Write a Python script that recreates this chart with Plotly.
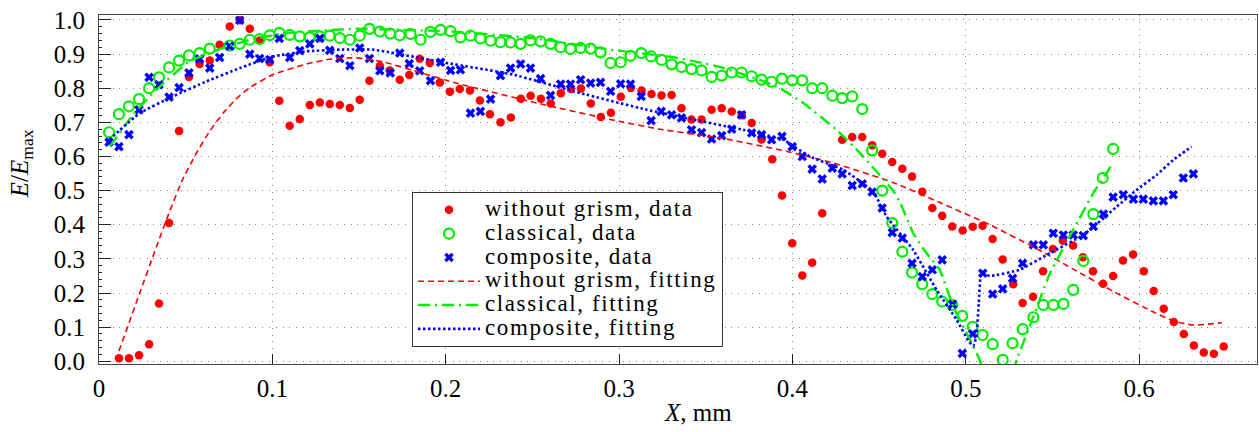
import plotly.graph_objects as go

# ---- data ----
red_x = [0.0115, 0.0173, 0.0231, 0.0289, 0.0346, 0.0404, 0.0462, 0.0519, 0.0580, 0.0639,
         0.0696, 0.0754, 0.0812, 0.0870, 0.0927, 0.0985, 0.1040, 0.1100, 0.1158, 0.1216,
         0.1274, 0.1331, 0.1389, 0.1447, 0.1504, 0.1560, 0.1620, 0.1677, 0.1735, 0.1790,
         0.1850, 0.1908, 0.1966, 0.2024, 0.2081, 0.2140, 0.2197, 0.2255, 0.2316, 0.2376,
         0.2433, 0.2490, 0.2549, 0.2606, 0.2664, 0.2722, 0.2780, 0.2837, 0.2895, 0.2953,
         0.3010, 0.3068, 0.3130, 0.3187, 0.3245, 0.3303, 0.3360, 0.3418, 0.3476, 0.3534,
         0.3592, 0.3650, 0.3707, 0.3765, 0.3822, 0.3884, 0.3940, 0.3999, 0.4057, 0.4114,
         0.4172, 0.4287, 0.4345, 0.4403, 0.4460, 0.4518, 0.4576, 0.4634, 0.4690, 0.4749,
         0.4807, 0.4864, 0.4922, 0.4982, 0.5040, 0.5097, 0.5155, 0.5213, 0.5274, 0.5328,
         0.5388, 0.5446, 0.5503, 0.5560, 0.5619, 0.5676, 0.5734, 0.5792, 0.5850, 0.5907,
         0.5965, 0.6027, 0.6084, 0.6142, 0.6200, 0.6258, 0.6316, 0.6373, 0.6431, 0.6488]
red_y = [0.009, 0.009, 0.018, 0.050, 0.169, 0.405, 0.675, 0.833, 0.871, 0.881,
         0.927, 0.981, 0.999, 0.974, 0.940, 0.876, 0.763, 0.690, 0.710, 0.751,
         0.758, 0.754, 0.751, 0.742, 0.766, 0.822, 0.865, 0.852, 0.825, 0.839,
         0.886, 0.874, 0.817, 0.790, 0.798, 0.793, 0.764, 0.724, 0.700, 0.714,
         0.769, 0.778, 0.769, 0.755, 0.785, 0.798, 0.799, 0.755, 0.716, 0.728,
         0.775, 0.801, 0.793, 0.783, 0.779, 0.780, 0.741, 0.708, 0.708, 0.737,
         0.741, 0.732, 0.721, 0.698, 0.650, 0.592, 0.486, 0.346, 0.251, 0.289,
         0.434, 0.649, 0.657, 0.657, 0.633, 0.608, 0.584, 0.564, 0.541, 0.497,
         0.449, 0.426, 0.395, 0.383, 0.394, 0.397, 0.358, 0.298, 0.226, 0.171,
         0.189, 0.264, 0.329, 0.353, 0.339, 0.305, 0.264, 0.227, 0.250, 0.295,
         0.313, 0.264, 0.206, 0.154, 0.115, 0.080, 0.046, 0.026, 0.022, 0.043]

green_x = [0.0058, 0.0115, 0.0173, 0.0231, 0.0289, 0.0346, 0.0404, 0.0462, 0.0519, 0.0580,
           0.0639, 0.0754, 0.0812, 0.0870, 0.0927, 0.0985, 0.1040, 0.1100, 0.1158, 0.1216,
           0.1274, 0.1331, 0.1389, 0.1447, 0.1504, 0.1560, 0.1620, 0.1680, 0.1735, 0.1797,
           0.1855, 0.1912, 0.1970, 0.2028, 0.2085, 0.2143, 0.2200, 0.2259, 0.2316, 0.2374,
           0.2432, 0.2489, 0.2547, 0.2605, 0.2663, 0.2720, 0.2778, 0.2836, 0.2893, 0.2951,
           0.3009, 0.3066, 0.3128, 0.3185, 0.3245, 0.3303, 0.3360, 0.3418, 0.3476, 0.3534,
           0.3592, 0.3650, 0.3707, 0.3765, 0.3822, 0.3880, 0.3940, 0.3999, 0.4057, 0.4114,
           0.4172, 0.4230, 0.4287, 0.4345, 0.4403, 0.4460, 0.4518, 0.4576, 0.4634, 0.4690,
           0.4749, 0.4807, 0.4864, 0.4922, 0.4980, 0.5040, 0.5097, 0.5155, 0.5213, 0.5270,
           0.5328, 0.5390, 0.5447, 0.5505, 0.5563, 0.5620, 0.5678, 0.5736, 0.5790, 0.5850]
green_y = [0.671, 0.724, 0.747, 0.768, 0.800, 0.832, 0.861, 0.881, 0.896, 0.903,
           0.916, 0.925, 0.930, 0.942, 0.944, 0.955, 0.962, 0.956, 0.952, 0.949,
           0.952, 0.954, 0.947, 0.942, 0.954, 0.974, 0.966, 0.960, 0.955, 0.959,
           0.942, 0.965, 0.971, 0.967, 0.949, 0.954, 0.946, 0.939, 0.935, 0.934,
           0.930, 0.940, 0.937, 0.930, 0.920, 0.915, 0.918, 0.916, 0.905, 0.874,
           0.876, 0.895, 0.903, 0.893, 0.883, 0.870, 0.862, 0.856, 0.852, 0.833,
           0.837, 0.846, 0.846, 0.835, 0.825, 0.819, 0.828, 0.823, 0.823, 0.800,
           0.800, 0.778, 0.771, 0.776, 0.739, 0.618, 0.500, 0.405, 0.321, 0.260,
           0.226, 0.197, 0.175, 0.165, 0.133, 0.101, 0.077, 0.050, 0.004, 0.053,
           0.094, 0.129, 0.165, 0.165, 0.168, 0.209, 0.294, 0.431, 0.537, 0.622]

blue_x = [0.0058, 0.0115, 0.0173, 0.0231, 0.0289, 0.0346, 0.0404, 0.0462, 0.0519, 0.0580,
          0.0639, 0.0696, 0.0754, 0.0812, 0.0870, 0.0927, 0.0985, 0.1040, 0.1100, 0.1158,
          0.1216, 0.1274, 0.1331, 0.1389, 0.1447, 0.1504, 0.1560, 0.1620, 0.1680, 0.1735,
          0.1790, 0.1850, 0.1912, 0.1970, 0.2028, 0.2085, 0.2143, 0.2200, 0.2259, 0.2316,
          0.2374, 0.2432, 0.2489, 0.2547, 0.2605, 0.2663, 0.2720, 0.2778, 0.2836, 0.2893,
          0.2951, 0.3009, 0.3066, 0.3128, 0.3185, 0.3243, 0.3303, 0.3360, 0.3418, 0.3476,
          0.3534, 0.3592, 0.3650, 0.3707, 0.3765, 0.3822, 0.3880, 0.3940, 0.3999, 0.4057,
          0.4114, 0.4172, 0.4230, 0.4287, 0.4345, 0.4403, 0.4460, 0.4518, 0.4576, 0.4634,
          0.4690, 0.4749, 0.4807, 0.4864, 0.4924, 0.4980, 0.5040, 0.5098, 0.5155, 0.5213,
          0.5270, 0.5328, 0.5390, 0.5447, 0.5505, 0.5563, 0.5620, 0.5678, 0.5736, 0.5794,
          0.5850, 0.5909, 0.5967, 0.6024, 0.6082, 0.6140, 0.6197, 0.6255, 0.6313]
blue_y = [0.642, 0.629, 0.664, 0.737, 0.832, 0.810, 0.774, 0.802, 0.845, 0.886,
          0.859, 0.890, 0.923, 0.999, 0.900, 0.887, 0.884, 0.946, 0.890, 0.910,
          0.930, 0.946, 0.911, 0.887, 0.866, 0.918, 0.887, 0.851, 0.845, 0.903,
          0.872, 0.851, 0.822, 0.876, 0.852, 0.854, 0.727, 0.732, 0.768, 0.837,
          0.859, 0.871, 0.859, 0.828, 0.779, 0.812, 0.812, 0.825, 0.815, 0.817,
          0.791, 0.813, 0.812, 0.776, 0.705, 0.732, 0.722, 0.713, 0.678, 0.670,
          0.651, 0.661, 0.680, 0.722, 0.669, 0.664, 0.649, 0.659, 0.629, 0.600,
          0.563, 0.534, 0.566, 0.549, 0.515, 0.520, 0.496, 0.449, 0.377, 0.361,
          0.287, 0.248, 0.268, 0.297, 0.167, 0.023, 0.080, 0.258, 0.197, 0.212,
          0.243, 0.287, 0.341, 0.341, 0.375, 0.370, 0.370, 0.368, 0.395, 0.431,
          0.481, 0.488, 0.475, 0.475, 0.470, 0.470, 0.488, 0.537, 0.549]

red_fit_x = [0.0115, 0.0235, 0.0331, 0.0408, 0.0480, 0.0562, 0.0640, 0.0716, 0.0790, 0.0870,
             0.1004, 0.1197, 0.1331, 0.1485, 0.1640, 0.2060, 0.2540, 0.3000, 0.3235, 0.3620,
             0.3967, 0.4236, 0.4580, 0.4850, 0.5139, 0.5390, 0.5620, 0.5850, 0.6080, 0.6200,
             0.6310, 0.6477]
red_fit_y = [0.030, 0.200, 0.335, 0.440, 0.530, 0.610, 0.675, 0.727, 0.768, 0.802,
             0.840, 0.871, 0.885, 0.889, 0.877, 0.815, 0.755, 0.703, 0.680, 0.651,
             0.615, 0.581, 0.524, 0.465, 0.400, 0.335, 0.270, 0.205, 0.145, 0.118,
             0.106, 0.113]

green_fit_x = [0.0062, 0.0196, 0.0331, 0.0523, 0.0716, 0.0908, 0.1100, 0.1293, 0.1485, 0.2000,
               0.2500, 0.2947, 0.3310, 0.3480, 0.3570, 0.3811, 0.3927, 0.4062, 0.4255, 0.4390,
               0.4580, 0.4623, 0.4697, 0.4773, 0.4850, 0.4928, 0.5043, 0.5080, 0.5110, 0.5270,
               0.5294, 0.5390, 0.5486, 0.5620, 0.5736, 0.5822, 0.5848]
green_fit_y = [0.629, 0.722, 0.796, 0.879, 0.918, 0.947, 0.962, 0.969, 0.974, 0.967,
               0.947, 0.913, 0.891, 0.874, 0.864, 0.825, 0.800, 0.757, 0.678, 0.610,
               0.500, 0.463, 0.375, 0.317, 0.268, 0.160, 0.045, 0.004, -0.030, -0.030,
               0.004, 0.131, 0.258, 0.385, 0.493, 0.559, 0.581]

blue_fit_x = [0.0058, 0.0235, 0.0427, 0.0620, 0.0812, 0.1004, 0.1197, 0.1389, 0.1580, 0.2005,
              0.2389, 0.2774, 0.3160, 0.3430, 0.3716, 0.3947, 0.4100, 0.4293, 0.4466, 0.4543,
              0.4697, 0.4832, 0.4948, 0.5015, 0.5043, 0.5060, 0.5075, 0.5090, 0.5139, 0.5310,
              0.5486, 0.5678, 0.5871, 0.5986, 0.6101, 0.6197, 0.6303]
blue_fit_y = [0.649, 0.727, 0.776, 0.820, 0.859, 0.893, 0.908, 0.913, 0.913, 0.874,
              0.840, 0.786, 0.737, 0.708, 0.678, 0.649, 0.600, 0.561, 0.497, 0.424,
              0.326, 0.209, 0.121, 0.060, 0.045, 0.070, 0.170, 0.258, 0.250, 0.268,
              0.317, 0.370, 0.453, 0.502, 0.546, 0.590, 0.629]

RED = "#ff0000"
GREEN = "#00ee00"
BLUE = "#0000ff"
FONT = "Liberation Serif, Tinos, Times New Roman, Times, Nimbus Roman, DejaVu Serif, serif"


def nm(s):
    return '<span style="font-size:23px;letter-spacing:1.6px">' + s + '</span>'


fig = go.Figure()
fig.add_trace(go.Scatter(x=red_x, y=red_y, mode="markers", name=nm("without grism, data"),
                         marker=dict(symbol="circle", size=8.5, color=RED)))
fig.add_trace(go.Scatter(x=green_x, y=green_y, mode="markers", name=nm("classical, data"),
                         marker=dict(symbol="circle-open", size=10, color=GREEN, line=dict(width=2.2))))
fig.add_trace(go.Scatter(x=blue_x, y=blue_y, mode="markers", name=nm("composite, data"),
                         marker=dict(symbol="x", size=8.5, color=BLUE, line=dict(width=0))))
fig.add_trace(go.Scatter(x=red_fit_x, y=red_fit_y, mode="lines", name=nm("without grism, fitting"),
                         line=dict(color=RED, width=1.6, dash="6px,4px", shape="spline", smoothing=0.5)))
fig.add_trace(go.Scatter(x=green_fit_x, y=green_fit_y, mode="lines", name=nm("classical, fitting"),
                         line=dict(color=GREEN, width=2.4, dash="12px,5px,2px,5px", shape="spline", smoothing=0.4)))
fig.add_trace(go.Scatter(x=blue_fit_x, y=blue_fit_y, mode="lines", name=nm("composite, fitting"),
                         line=dict(color=BLUE, width=2.6, dash="2.5px,2.5px", shape="spline", smoothing=0.4)))

axis_common = dict(
    showline=True, linecolor="#444", linewidth=1, mirror=True,
    showgrid=True, gridcolor="#888", gridwidth=1, griddash="1px,5.8px",
    zeroline=False, ticks="inside", tickcolor="#222", automargin=False,
    tickfont=dict(family=FONT, size=25, color="black"),
)

fig.update_xaxes(range=[0, 0.668], dtick=0.1, tick0=0, ticklen=10,
                 ticklabelstandoff=2, **axis_common)
fig.update_yaxes(range=[-0.008, 1.0145], dtick=0.1, tick0=0, tickformat=".1f", ticklen=12,
                 ticklabelstandoff=8,
                 minor=dict(dtick=0.02, ticks="inside", ticklen=3, tickcolor="#222", showgrid=False),
                 **axis_common)

fig.update_layout(
    width=1259, height=432,
    margin=dict(l=99, r=2, t=15, b=68, autoexpand=False),
    paper_bgcolor="white", plot_bgcolor="white",
    font=dict(family=FONT, color="black"),
    showlegend=True,
    legend=dict(x=0.2703, y=0.493, xanchor="left", yanchor="top",
                bgcolor="white", bordercolor="#333", borderwidth=1,
                font=dict(family=FONT, size=16, color="black"),
                itemwidth=62, tracegroupgap=0),
    annotations=[
        dict(text="<i>X</i>, mm", xref="paper", yref="paper", x=0.517, y=-0.14,
             xanchor="center", yanchor="middle", showarrow=False,
             font=dict(family=FONT, size=25, color="black")),
        dict(text="<i>E</i>/<i>E</i><sub>max</sub>", xref="paper", yref="paper",
             x=-0.0675, y=0.575, xanchor="center", yanchor="middle", textangle=-90,
             showarrow=False, font=dict(family=FONT, size=25, color="black")),
    ],
)

fig.write_html("out.html",
               config={"displayModeBar": False},
               post_script="document.body.style.margin='0';document.body.style.padding='0';")
